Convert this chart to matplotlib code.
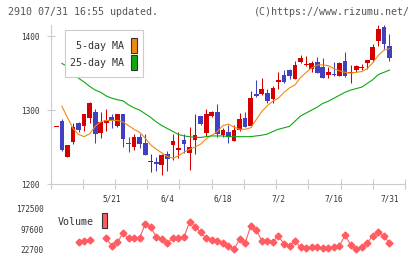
import matplotlib
matplotlib.use('Agg')
import matplotlib.pyplot as plt
import numpy as np
from matplotlib.patches import Rectangle

########################################################
# Data (61 sessions 5/7 - 7/31)
########################################################

opens = [1277, 1285, 1236, 1257, 1282, 1279, 1289, 1297, 1269, 1283,
         1290.5, 1279, 1295, 1255.5, 1250, 1264, 1256, 1229.8, 1230, 1226,
         1240.5, 1253, 1246, 1259.5, 1242, 1259.5, 1292, 1269, 1292, 1297,
         1266, 1270, 1258.5, 1273, 1289, 1278, 1321.5, 1321.6, 1323, 1315,
         1338.3, 1347, 1354, 1342, 1365, 1360.6, 1355.4, 1365, 1358, 1348,
         1347.2, 1346.4, 1366, 1350.7, 1354, 1357, 1364, 1367.6, 1393.7, 1412,
         1386.5]
closes = [1277, 1246, 1253, 1277, 1273, 1295, 1310, 1268, 1284, 1287,
          1285.5, 1295, 1261, 1254.5, 1263, 1254, 1239, 1230.2, 1227, 1239,
          1234, 1258, 1249, 1254, 1250.5, 1266, 1281.5, 1295, 1298, 1268,
          1273, 1264, 1273, 1288, 1277.5, 1316, 1319, 1328.4, 1312.6, 1330,
          1340.5, 1337.4, 1346.4, 1361, 1370, 1361, 1363, 1350.5, 1343.7, 1351.4,
          1346.8, 1363, 1346, 1351, 1359.5, 1357.3, 1367.6, 1385.6, 1409.5, 1389.6,
          1370]
highs = [1277, 1288, 1253, 1283, 1284, 1295, 1311, 1302, 1298, 1302,
         1295, 1295, 1295, 1263, 1268, 1268, 1268, 1240.5, 1237, 1240,
         1245, 1268, 1270, 1267, 1277, 1295, 1292, 1301, 1299, 1308,
         1276, 1280, 1280, 1296, 1298, 1326, 1340.5, 1343, 1329, 1333,
         1351, 1354, 1356, 1366, 1374, 1373, 1366, 1372, 1370, 1358.6,
         1365, 1365, 1378, 1361, 1360.4, 1362, 1367.6, 1388.7, 1415, 1415,
         1403]
lows = [1277, 1245, 1236, 1254, 1270, 1271, 1283, 1255, 1262, 1272,
        1276, 1277, 1250, 1243, 1246, 1249, 1239, 1216.6, 1217, 1212,
        1218, 1233, 1235, 1241.5, 1219, 1240, 1280, 1265, 1291, 1264,
        1264, 1256, 1258, 1272, 1277, 1277, 1317, 1320, 1309, 1310,
        1328, 1336, 1342, 1342, 1363, 1360, 1351, 1350.5, 1343.7, 1344,
        1346, 1346, 1345, 1336, 1351.4, 1354, 1355, 1365, 1386.5, 1382,
        1366]

nan = np.nan
ma5 = [nan, 1305, 1290, 1275, 1267, 1264, 1268, 1278, 1284, 1286,
       1286, 1286, 1284, 1279, 1274, 1270, 1262, 1253, 1247, 1242,
       1237, 1235, 1238, 1243, 1247, 1250, 1254, 1261, 1266, 1271,
       1279, 1281, 1277, 1274, 1274, 1276, 1287, 1298, 1306, 1312,
       1316, 1324, 1330, 1334, 1344, 1351, 1357, 1361, 1361, 1360,
       1356, 1353, 1351, 1350, 1351, 1352, 1356, 1364, 1374, 1381,
       1383]
ma25 = [nan, 1363, 1359, 1352, 1343, 1338, 1332, 1327, 1324, 1319,
        1316, 1314, 1312.5, 1307, 1303, 1300, 1295, 1290, 1284, 1279,
        1275, 1271, 1267, 1265, 1264, 1263, 1263, 1264, 1265, 1265,
        1265, 1264, 1264, 1264, 1264, 1264, 1265, 1266, 1267.5, 1271,
        1274, 1276, 1278, 1285, 1292, 1296, 1300, 1304, 1309, 1312,
        1316, 1320, 1324, 1327, 1329, 1331, 1336, 1341, 1348, 1351,
        1354]

volume = [nan, nan, nan, nan, 51000, 53500, 57300, nan, nan, 63600,
          35000, 48700, 82200, 63600, 63600, 65800, 115600, 104500, 69500, 59900,
          45000, 65800, 65800, 67300, 125300, 106700, 85900, 63600, 57300, 54700,
          45000, 35000, 22700, 59900, 45000, 109300, 94400, 54700, 53500, 51000,
          72100, 42400, 35000, 53500, 30100, 26400, 30100, 30100, 26400, 26400,
          30100, 35000, 75900, 38700, 22700, 30100, 47200, 73300, 88100, 72100,
          45000]

date_labels = ['5/21', '6/4', '6/18', '7/2', '7/16', '7/31']
price_ticks = [1200, 1300, 1400]
vol_ticks = [22700, 97600, 172500]

########################################################
# Styling
########################################################

RED = '#d40000'
BLUE = '#4040c0'
ORANGE = '#f08a10'
GREEN = '#10a810'
VOLC = '#ff5c62'
AXC = '#cccccc'
TXT = '#333333'
FONT = 'DejaVu Sans Mono'

plt.rcParams['font.family'] = FONT

W, H = 420, 259


def fx(px):
    return px / W


def fy(py):
    return 1 - py / H


fig = plt.figure(figsize=(W / 100, H / 100), dpi=100)
ax = fig.add_axes([fx(50.5), fy(184), fx(405) - fx(50.5), fy(25) - fy(184)])
axv = fig.add_axes([fx(50.5), fy(249.3), fx(405) - fx(50.5), fy(209) - fy(249.3)])

n = len(opens)
x = np.arange(n)
o = np.array(opens)
c = np.array(closes)
colors = np.where(c >= o, RED, BLUE)

xlim = (-1.05, 62.8)

# candles
ax.vlines(x, lows, highs, colors=colors, lw=0.75, zorder=3)
body = np.maximum(np.abs(c - o), 1.3)
ax.bar(x, body, bottom=np.minimum(o, c), width=0.85, color=colors, lw=0, zorder=4)

ax.plot(x, ma5, color=ORANGE, lw=0.8, zorder=5)
ax.plot(x, ma25, color=GREEN, lw=0.8, zorder=5)

ax.set_xlim(*xlim)
ax.set_ylim(1200, 1415)
for s in ['top', 'right']:
    ax.spines[s].set_visible(False)
for s in ['left', 'bottom']:
    ax.spines[s].set_color(AXC)
    ax.spines[s].set_linewidth(0.8)

ax.set_yticks(price_ticks)
ax.set_yticklabels([str(t) for t in price_ticks], fontsize=5.6, color=TXT)
ax.tick_params(axis='y', direction='inout', length=6, width=0.8, color=AXC, pad=5)

ax.set_xticks(np.linspace(xlim[0], xlim[1], 12))
ax.set_xticklabels([])
ax.tick_params(axis='x', which='major', direction='inout', length=7, width=0.8, color=AXC)
label_pos = [n - 1 - 10 * k for k in range(len(date_labels))][::-1]
ax.set_xticks(label_pos, minor=True)
ax.set_xticklabels(date_labels, minor=True, fontsize=5.6, color=TXT)
ax.tick_params(axis='x', which='minor', length=0, pad=7.5)

# MA legend box
ax.add_patch(Rectangle((fx(65), fy(77.3)), fx(143.3) - fx(65), fy(30) - fy(77.3),
                       transform=fig.transFigure, facecolor='white', edgecolor=AXC,
                       lw=0.8, zorder=10, clip_on=False))
for label, col, py, ry in [('5-day MA', ORANGE, 46, 37.5), ('25-day MA', GREEN, 63.3, 54.5)]:
    fig.text(fx(124.5), fy(py), label, ha='right', va='center', fontsize=7.2,
             color=TXT, zorder=11)
    ax.add_patch(Rectangle((fx(131), fy(ry + 15)), fx(136.7) - fx(131), fy(ry) - fy(ry + 15),
                           transform=fig.transFigure, facecolor=col, edgecolor='#333333',
                           lw=0.8, zorder=11, clip_on=False))

# volume panel
axv.plot(x, volume, color=VOLC, lw=0.8, marker='D', ms=3.5, mec=VOLC, mfc=VOLC,
         clip_on=False)
axv.set_xlim(*xlim)
axv.set_ylim(vol_ticks[0], vol_ticks[-1])
for s in axv.spines.values():
    s.set_visible(False)
axv.set_xticks([])
axv.set_yticks(vol_ticks)
axv.set_yticklabels([str(t) for t in vol_ticks], fontsize=5.6, color=TXT)
axv.tick_params(axis='y', length=0, pad=4.7)

fig.text(fx(58), fy(222.3), 'Volume', ha='left', va='center', fontsize=7.2, color=TXT)
axv.add_patch(Rectangle((fx(101.7), fy(228.3)), fx(107.3) - fx(101.7), fy(213.3) - fy(228.3),
                        transform=fig.transFigure, facecolor=VOLC, edgecolor='#333333',
                        lw=0.8, clip_on=False))

# header
fig.text(fx(8.3), fy(12.3), '2910 07/31 16:55 updated.', ha='left', va='center',
         fontsize=7.2, color='#555555')
fig.text(fx(410), fy(12.3), '(C)https://www.rizumu.net/', ha='right', va='center',
         fontsize=7.2, color='#555555')

fig.savefig('out.png', dpi=100, facecolor='white')
